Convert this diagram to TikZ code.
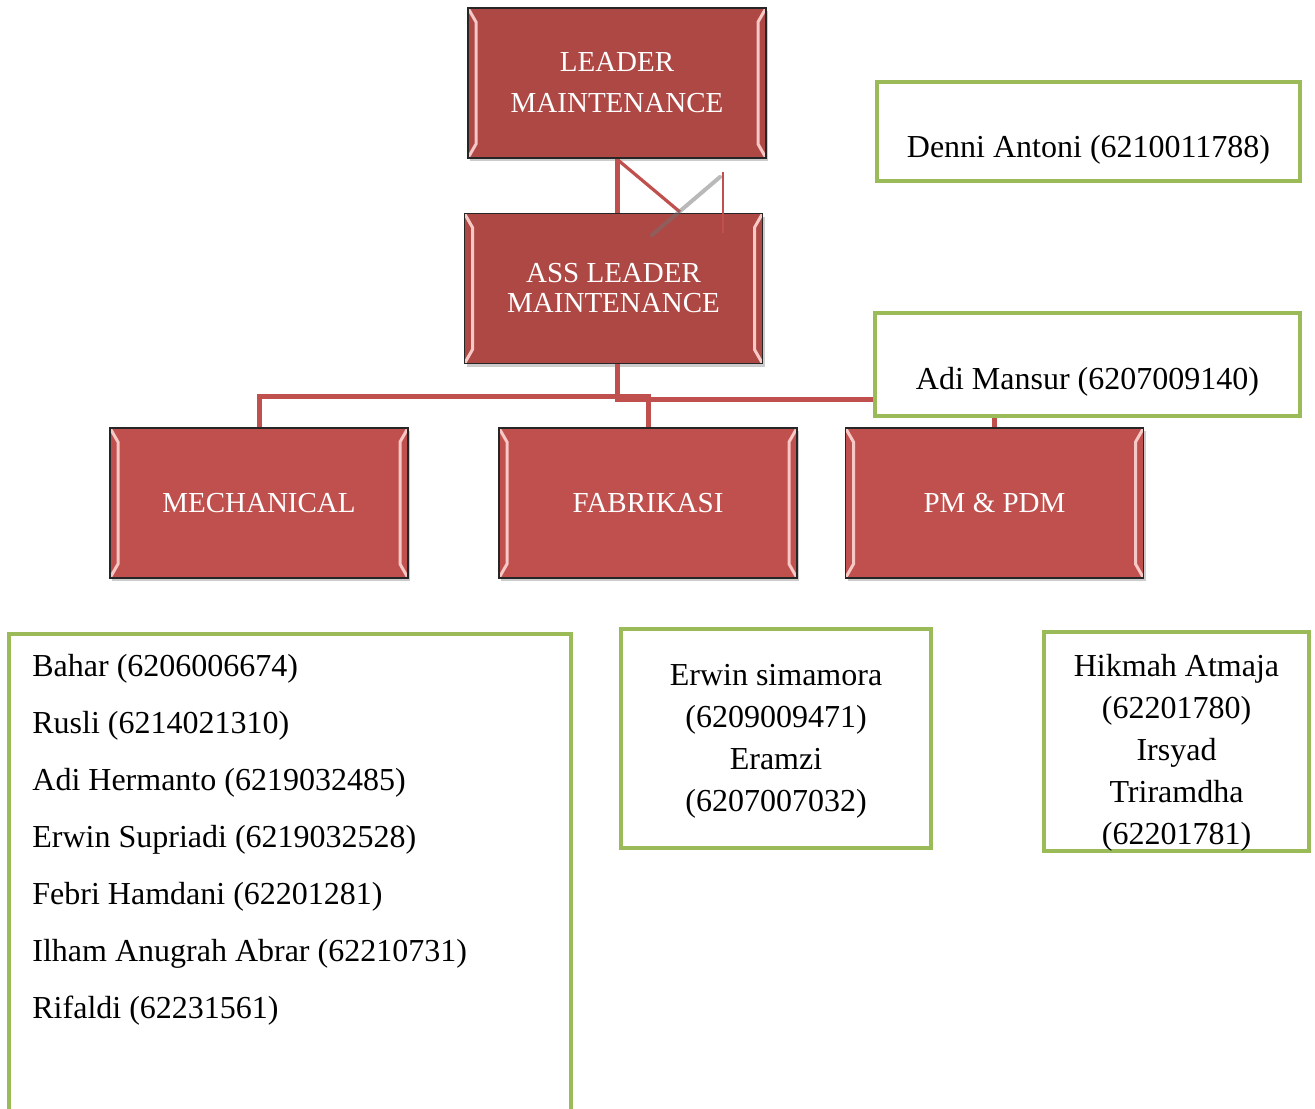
\documentclass[tikz,border=0pt]{standalone}
\usepackage{fontspec}
\setmainfont{Liberation Serif}
\usetikzlibrary{shadows}
\definecolor{boxred}{HTML}{C0504D}
\definecolor{darkred}{HTML}{AE4844}
\definecolor{boxgreen}{HTML}{9BBB59}
\definecolor{bevel}{HTML}{F6C9C7}
\begin{document}
\begin{tikzpicture}[x=0.5pt,y=-0.5pt,
        redbox/.style={draw=black!85,line width=0.9pt,fill=boxred,text=white,
            minimum width=149pt,minimum height=75pt,align=center,
            font=\fontsize{14.5}{20.5}\selectfont,
            drop shadow={shadow xshift=1.2pt,shadow yshift=-1.5pt,opacity=0.4},
            path picture={
                \draw[bevel,line width=1.5pt] (path picture bounding box.north west) -- ++(4pt,-7pt)
                    -- ([shift={(4pt,7pt)}]path picture bounding box.south west) -- (path picture bounding box.south west);
                \draw[bevel,line width=1.5pt] (path picture bounding box.north east) -- ++(-4pt,-7pt)
                    -- ([shift={(-4pt,7pt)}]path picture bounding box.south east) -- (path picture bounding box.south east);
            }},
        greenbox/.style={draw=boxgreen,line width=2pt,fill=white},
        link/.style={draw=boxred,line width=2.5pt},
        names/.style={font=\fontsize{16}{21}\selectfont,align=center,inner sep=0pt}]
    \useasboundingbox (0,0) rectangle (1315,1108);

    % red boxes
    \node[redbox,fill=darkred] (lead) at (617,83) {LEADER\\MAINTENANCE};
    \node[redbox,fill=darkred,font=\fontsize{14.5}{15}\selectfont] (ass) at (613.5,288.5) {ASS LEADER\\MAINTENANCE};
    \node[redbox] (mech) at (259,503) {MECHANICAL};
    \node[redbox] (fab) at (648,503) {FABRIKASI};
    \node[redbox] (pm) at (994.5,503) {PM \& PDM};

    % connectors
    \coordinate (hub) at (617,399);
    \coordinate (bar) at (0,396);
    \draw[link] (lead.south) -- (lead.south |- ass.north);
    \draw[link] (lead.south |- ass.south) -- (hub) -- (hub -| 876,0);
    \draw[link] (mech.north) |- (fab.north |- bar) -- (fab.north);
    \draw[link] (pm.north |- 0,414) -- (pm.north);

    % stray strokes between the top boxes
    \draw[boxred,line width=1.6pt] (618,160) -- (680,212);
    \draw[boxred,line width=0.8pt] (723,172) -- (723,233);
    \draw[black!55,line width=2pt,opacity=0.5,line cap=round] (652,235) -- (720,177);

    % green boxes
    \node[greenbox,minimum width=211.5pt,minimum height=49.5pt] (denni) at (1088.5,131.5) {};
    \node[names] at ([yshift=-9pt]denni.center) {Denni Antoni (6210011788)};
    \node[greenbox,minimum width=212.5pt,minimum height=51.5pt] (adi) at (1087.5,364.5) {};
    \node[names] at ([yshift=-8.75pt]adi.center) {Adi Mansur (6207009140)};

    \node[greenbox,minimum width=281pt,minimum height=245pt] (mechteam) at (290,879) {};
    \foreach \who [count=\k from 0] in {Bahar (6206006674),Rusli (6214021310),
            Adi Hermanto (6219032485),Erwin Supriadi (6219032528),Febri Hamdani (62201281),
            Ilham Anugrah Abrar (62210731),Rifaldi (62231561)}{
        \node[names,anchor=west] (m\k) at (32,{669+57*\k}) {\who};
    }

    \node[greenbox,minimum width=155pt,minimum height=109.5pt] (fabteam) at (776,738.5) {};
    \node[names] at ([yshift=-1.5pt]fabteam.center) {Erwin simamora\\(6209009471)\\Eramzi\\(6207007032)};
    \node[greenbox,minimum width=132.5pt,minimum height=109.5pt] (pmteam) at (1176.5,741.5) {};
    \node[names] at ([yshift=-5.5pt]pmteam.center) {Hikmah Atmaja\\(62201780)\\Irsyad\\Triramdha\\(62201781)};
\end{tikzpicture}
\end{document}
